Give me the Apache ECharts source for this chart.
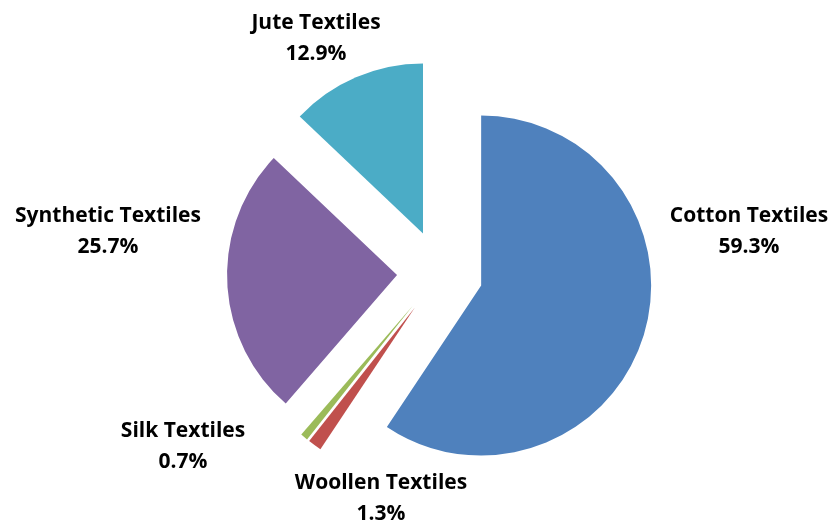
<!DOCTYPE html>
<html>
<head>
<meta charset="utf-8">
<script src="https://cdn.jsdelivr.net/npm/echarts@6/dist/echarts.min.js"></script>
<style>
  html, body { margin: 0; padding: 0; background: #fff; }
  #main { width: 835px; height: 526px; }
</style>
</head>
<body>
<div id="main"></div>
<script>
// share of textile exports (%)
const categories = ['Cotton Textiles', 'Woollen Textiles', 'Silk Textiles', 'Synthetic Textiles', 'Jute Textiles'];
const shares = [59.3, 1.3, 0.7, 25.7, 12.9];
const colors = ['#4F81BD', '#C0504D', '#9BBB59', '#8064A2', '#4BACC6'];
// label centres (px), placed like the original's "best fit"
const labelSpots = [[749, 232], [381, 499], [183, 447], [108, 232], [316, 39]];

var myChart = echarts.init(document.getElementById('main'));

const option = {
    animation: false,
    // labels drawn as plain text at the original spots
    graphic: categories.map((name, i) => ({
        type: 'text',
        x: labelSpots[i][0],
        y: labelSpots[i][1],
        style: {
            text: name + '\n' + shares[i].toFixed(1) + '%',
            fontFamily: 'Open Sans',
            fontWeight: 'bold',
            fontSize: 21,
            lineHeight: 31,
            fill: '#000',
            align: 'center',
            verticalAlign: 'middle'
        }
    })),
    series: [
        {
            type: 'pie',
            center: [440, 273],
            radius: 170,
            startAngle: 90,
            selectedMode: 'multiple',
            selectedOffset: 43,
            emphasis: { disabled: true },
            label: { show: false },
            labelLine: { show: false },
            data: categories.map((name, i) => ({
                name: name,
                value: shares[i],
                selected: true,
                itemStyle: { color: colors[i] }
            }))
        }
    ]
};

myChart.setOption(option);
</script>
</body>
</html>
